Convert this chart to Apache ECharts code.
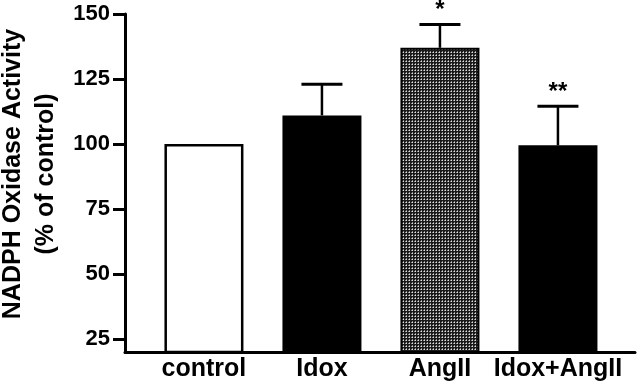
<!DOCTYPE html>
<html>
<head>
<meta charset="utf-8">
<script src="https://cdn.jsdelivr.net/npm/echarts@6/dist/echarts.min.js"></script>
<style>
  html, body { margin: 0; padding: 0; background: #fff; }
  #chart { width: 640px; height: 389px; }
</style>
</head>
<body>
<div id="chart"></div>
<script>
// 数据
const categories = ['control', 'Idox', 'AngII', 'Idox+AngII'];
const activity = [100, 111, 137, 99.5];
const errors = [0, 12, 9, 15];
const marks = ['', '', '*', '**'];
const yTicks = [25, 50, 75, 100, 125, 150];

const FONT = '"Liberation Sans", Arial, Helvetica, sans-serif';

// 点状灰色填充 (AngII)
function makeStipple () {
    const c = document.createElement('canvas');
    c.width = 3;
    c.height = 3;
    const ctx = c.getContext('2d');
    ctx.fillStyle = '#1a1a1a';
    ctx.fillRect(0, 0, 3, 3);
    ctx.fillStyle = '#e0e0e0';
    ctx.fillRect(1, 1, 1, 1);
    ctx.fillStyle = '#8a8a8a';
    ctx.fillRect(0, 1, 1, 1);
    ctx.fillRect(1, 0, 1, 1);
    return c;
}
const stipple = makeStipple();

const barStyles = [
    { color: '#fff', borderColor: '#000', borderWidth: 2.5 },
    { color: '#000' },
    { color: { image: stipple, repeat: 'repeat' }, borderColor: '#000', borderWidth: 2 },
    { color: '#000' }
];

const barData = activity.map((v, i) => ({ value: [i, v], itemStyle: barStyles[i] }));
const errData = activity.map((v, i) => [i, v, v + errors[i], i]);

const option = {
    animation: false,
    backgroundColor: '#fff',
    grid: { left: 125, right: 5, top: 14, bottom: 37, containLabel: false, outerBoundsMode: 'none' },
    xAxis: {
        type: 'value',
        min: -0.669,
        max: 3.653,
        splitLine: { show: false },
        axisTick: { show: false },
        axisLine: { show: true, onZero: false, lineStyle: { color: '#000', width: 3 } },
        axisLabel: {
            customValues: [0, 1, 2, 3],
            formatter: v => categories[Math.round(v)],
            color: '#000',
            fontFamily: FONT,
            fontWeight: 'bold',
            fontSize: 25,
            margin: 5
        }
    },
    yAxis: {
        type: 'value',
        min: 20,
        max: 150,
        splitLine: { show: false },
        axisLine: { show: true, onZero: false, lineStyle: { color: '#000', width: 3 } },
        axisTick: { show: true, customValues: yTicks, length: 12, lineStyle: { color: '#000', width: 3 } },
        axisLabel: {
            customValues: yTicks,
            color: '#000',
            fontFamily: FONT,
            fontWeight: 'bold',
            fontSize: 22,
            margin: 15
        },
        name: 'NADPH Oxidase Activity\n(% of control)',
        nameLocation: 'middle',
        nameGap: 49,
        nameTextStyle: {
            color: '#000',
            fontFamily: FONT,
            fontWeight: 'bold',
            fontSize: 25,
            lineHeight: 33,
            padding: [0, 0, 0, 18]
        }
    },
    series: [
        {
            type: 'bar',
            barWidth: 79,
            data: barData
        },
        {
            type: 'custom',
            z: 5,
            data: errData,
            renderItem: (params, api) => {
                const i = api.value(3);
                const base = api.coord([api.value(0), api.value(1)]);
                const top = api.coord([api.value(0), api.value(2)]);
                const children = [];
                if (errors[i] > 0) {
                    children.push({
                        type: 'line',
                        shape: { x1: base[0], y1: base[1], x2: top[0], y2: top[1] },
                        style: { stroke: '#000', lineWidth: 2.5 }
                    });
                    children.push({
                        type: 'line',
                        shape: { x1: top[0] - 20.5, y1: top[1], x2: top[0] + 20.5, y2: top[1] },
                        style: { stroke: '#000', lineWidth: 3 }
                    });
                }
                if (marks[i]) {
                    children.push({
                        type: 'text',
                        x: top[0],
                        y: top[1] - 2,
                        style: {
                            text: marks[i],
                            fill: '#000',
                            fontFamily: FONT,
                            fontWeight: 'bold',
                            fontSize: 24,
                            align: 'center',
                            verticalAlign: 'bottom'
                        }
                    });
                }
                return { type: 'group', children };
            }
        }
    ]
};

const chart = echarts.init(document.getElementById('chart'), null, { renderer: 'canvas' });
chart.setOption(option);
</script>
</body>
</html>
